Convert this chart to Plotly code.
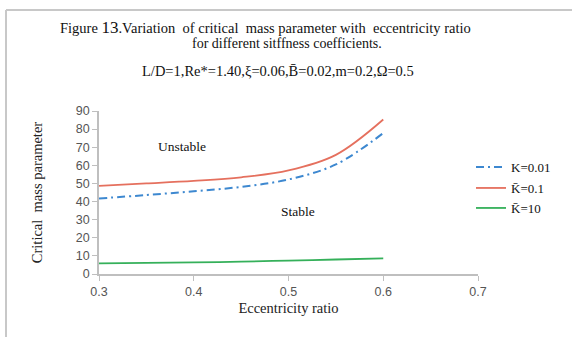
import plotly.graph_objects as go

ecc = [0.3, 0.35, 0.4, 0.45, 0.5, 0.55, 0.6]
k001 = [41.7, 43.6, 45.7, 48.1, 52.2, 60.5, 77.8]
k01 = [48.7, 50.0, 51.4, 53.4, 57.2, 65.8, 85.3]
k10 = [5.9, 6.1, 6.4, 6.8, 7.4, 8.0, 8.6]
names = ["K=0.01", "K\u0304=0.1", "K\u0304=10"]
x_ticks = [0.3, 0.4, 0.5, 0.6, 0.7]
y_ticks = list(range(0, 100, 10))

W, H = 572, 337
L, R, T, B = 99, 94, 111, 63
pw, ph = W - L - R, H - T - B

def px(x):
    return (x - L) / pw

def py(y):
    return (H - B - y) / ph

serif = "Liberation Serif"
fig = go.Figure()
fig.add_trace(go.Scatter(x=ecc, y=k001, mode="lines", name=names[0], line_shape="spline", legend="legend",
                         showlegend=True, line=dict(color="#3D88D0", width=2, dash="8px,4px,2px,4px")))
fig.add_trace(go.Scatter(x=ecc, y=k01, mode="lines", name=names[1], line_shape="spline", legend="legend2",
                         showlegend=True, line=dict(color="#E5705E", width=1.8)))
fig.add_trace(go.Scatter(x=ecc, y=k10, mode="lines", name=names[2], line_shape="spline", legend="legend3",
                         showlegend=True, line=dict(color="#35B05A", width=1.8)))

axis_common = dict(showline=True, linecolor="#bfbfbf", linewidth=1.5, ticks="outside",
                   tickcolor="#bfbfbf", ticklen=5, showgrid=False, zeroline=False,
                   tickfont=dict(family="Liberation Sans", size=12.5, color="#555555"))
fig.update_xaxes(range=[0.3, 0.7], tickvals=x_ticks, ticktext=[f"{v:.1f}" for v in x_ticks],
                 title=dict(text="Eccentricity ratio", font=dict(family=serif, size=14.5, color="#222"), standoff=5),
                 **axis_common)
fig.update_yaxes(range=[0, 90], tickvals=y_ticks,
                 title=dict(text="Critical  mass parameter", font=dict(family=serif, size=14.5, color="#222"), standoff=30),
                 **axis_common)

ann = []
ann.append(dict(x=px(265), y=py(27), text="Figure <span style='font-size:17px'>13</span>.Variation  of critical  mass parameter with  eccentricity ratio",
                font=dict(family=serif, size=14.5, color="#111")))
ann.append(dict(x=px(287), y=py(44), text="for different sitffness coefficients.",
                font=dict(family=serif, size=14, color="#111")))
ann.append(dict(x=px(278), y=py(71), text="L/D=1,Re*=1.40,\u03be=0.06,B\u0304=0.02,m=0.2,\u03a9=0.5",
                font=dict(family=serif, size=14.5, color="#111")))
ann.append(dict(x=px(182), y=py(146), text="Unstable", font=dict(family=serif, size=13.5, color="#111")))
ann.append(dict(x=px(298), y=py(211), text="Stable", font=dict(family=serif, size=13.5, color="#111")))
for a in ann:
    a.update(xref="paper", yref="paper", showarrow=False, xanchor="center", yanchor="middle")

shapes = [
    dict(type="line", xref="paper", yref="paper", x0=px(6), x1=px(6), y0=py(10), y1=py(340),
         line=dict(color="#c8c8c8", width=2)),
    dict(type="line", xref="paper", yref="paper", x0=px(6), x1=px(580), y0=py(10), y1=py(10),
         line=dict(color="#c8c8c8", width=2)),
]

def leg(yc):
    return dict(x=px(471), y=py(yc), xanchor="left", yanchor="middle",
                font=dict(family=serif, size=13, color="#111"),
                bgcolor="rgba(0,0,0,0)", itemwidth=30)

fig.update_layout(width=W, height=H, margin=dict(l=L, r=R, t=T, b=B),
                  plot_bgcolor="white", paper_bgcolor="white", showlegend=True,
                  annotations=ann, shapes=shapes,
                  legend=leg(167), legend2=leg(188), legend3=leg(208))
fig.write_html("out.html")
